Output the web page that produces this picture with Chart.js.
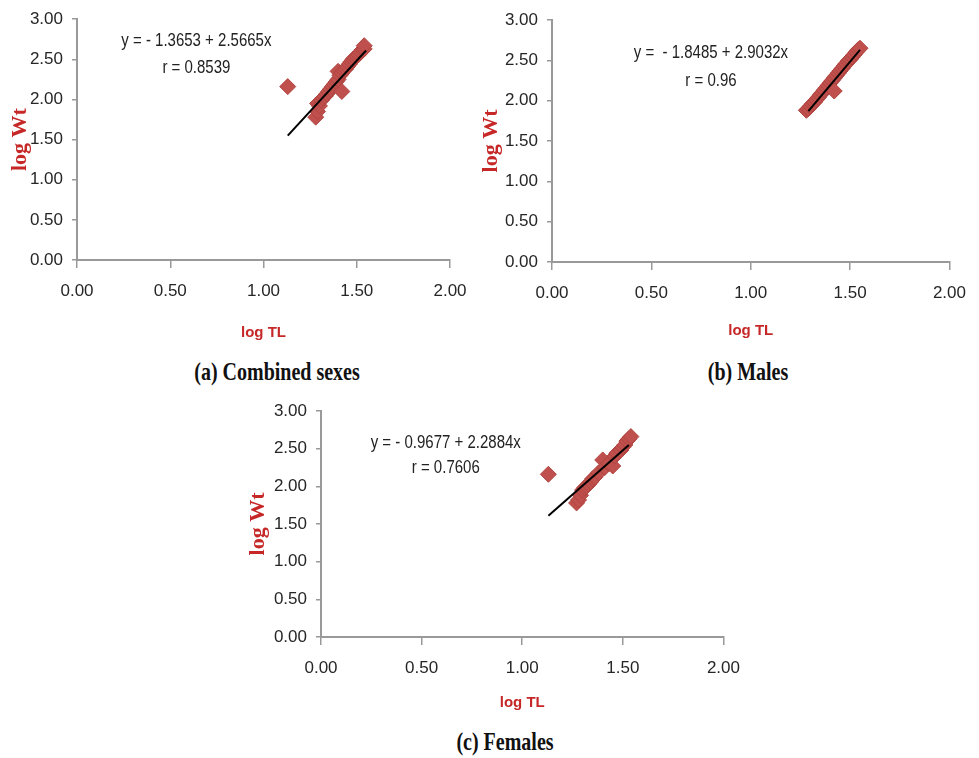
<!DOCTYPE html>
<html>
<head>
<meta charset="utf-8">
<script src="https://cdn.jsdelivr.net/npm/chart.js@4/dist/chart.umd.min.js"></script>
<style>
  html, body { margin: 0; padding: 0; background: #fff; }
  body { width: 979px; height: 758px; position: relative; overflow: hidden; }
  canvas { position: absolute; }
  .cap {
    position: absolute; font-family: "Liberation Serif", "Times New Roman", serif;
    font-weight: bold; font-size: 20px; color: #111; white-space: nowrap;
    transform: translate(-50%, -50%) scaleY(1.3);
  }
</style>
</head>
<body>
<canvas id="chartA" width="480" height="350" style="left:0;top:0"></canvas>
<canvas id="chartB" width="501" height="350" style="left:478px;top:0"></canvas>
<canvas id="chartC" width="513" height="327" style="left:240px;top:390px"></canvas>
<div class="cap" style="left:277px;top:372px">(a) Combined sexes</div>
<div class="cap" style="left:748px;top:372px">(b) Males</div>
<div class="cap" style="left:505px;top:742px">(c) Females</div>
<script>
/* ---------- data ---------- */
// (a) combined sexes
const combinedTL = [1.13, 1.28, 1.29, 1.29, 1.30, 1.31, 1.32, 1.33, 1.34, 1.35, 1.36, 1.37, 1.38, 1.39, 1.40, 1.40, 1.41, 1.42, 1.42, 1.43, 1.44, 1.45, 1.46, 1.47, 1.48, 1.49, 1.50, 1.51, 1.52, 1.53, 1.54, 1.54];
const combinedWt = [2.16, 1.78, 1.85, 1.95, 1.92, 1.99, 2.02, 2.04, 2.07, 2.10, 2.13, 2.16, 2.19, 2.22, 2.25, 2.35, 2.30, 2.10, 2.33, 2.36, 2.38, 2.41, 2.44, 2.47, 2.50, 2.52, 2.54, 2.56, 2.59, 2.62, 2.63, 2.67];
const combinedFitTL = [1.13, 1.55];
const combinedFitWt = [1.55, 2.61];
const combinedEq = ['y = - 1.3653 + 2.5665x', 'r = 0.8539'];

// (b) males
const malesTL = [1.28, 1.29, 1.30, 1.31, 1.32, 1.33, 1.34, 1.35, 1.36, 1.37, 1.38, 1.39, 1.40, 1.41, 1.42, 1.42, 1.43, 1.44, 1.45, 1.46, 1.47, 1.48, 1.49, 1.50, 1.51, 1.52, 1.53, 1.54, 1.55];
const malesWt = [1.88, 1.90, 1.93, 1.96, 1.98, 2.01, 2.04, 2.07, 2.10, 2.13, 2.16, 2.19, 2.22, 2.25, 2.28, 2.12, 2.31, 2.34, 2.37, 2.40, 2.43, 2.46, 2.49, 2.51, 2.54, 2.57, 2.60, 2.63, 2.65];
const malesFitTL = [1.29, 1.55];
const malesFitWt = [1.87, 2.63];
const malesEq = ['y =  - 1.8485 + 2.9032x', 'r = 0.96'];

// (c) females
const femalesTL = [1.13, 1.27, 1.28, 1.29, 1.30, 1.31, 1.32, 1.33, 1.34, 1.35, 1.36, 1.38, 1.40, 1.41, 1.43, 1.45, 1.46, 1.47, 1.49, 1.50, 1.51, 1.52, 1.53, 1.54];
const femalesWt = [2.16, 1.78, 1.82, 1.88, 1.95, 1.98, 2.00, 2.03, 2.06, 2.10, 2.12, 2.18, 2.35, 2.25, 2.30, 2.27, 2.40, 2.44, 2.48, 2.52, 2.55, 2.60, 2.63, 2.66];
const femalesFitTL = [1.13, 1.53];
const femalesFitWt = [1.61, 2.55];
const femalesEq = ['y = - 0.9677 + 2.2884x', 'r = 0.7606'];

const xTitle = 'log TL';
const yTitle = 'log Wt';

/* ---------- helpers ---------- */
const pts = (xs, ys) => xs.map((x, i) => ({ x, y: ys[i] }));

// equation text, stretched a little vertically like the scanned figure
const eqPlugin = {
    id: 'eq',
    afterDatasetsDraw(chart, args, opts) {
        const { ctx, scales: { x, y } } = chart;
        ctx.save();
        ctx.font = '15px "Liberation Sans", Arial, sans-serif';
        ctx.fillStyle = '#222';
        ctx.textAlign = 'center';
        ctx.textBaseline = 'middle';
        opts.lines.forEach((t, i) => {
            ctx.save();
            ctx.translate(x.getPixelForValue(opts.atX), y.getPixelForValue(opts.atY[i]));
            ctx.scale(1, 1.25);
            ctx.fillText(t, 0, 0);
            ctx.restore();
        });
        ctx.restore();
    }
};

function makePanel(id, tl, wt, fitTL, fitWt, eq, eqAtX, eqAtY, lay) {
    const ctx = document.getElementById(id).getContext('2d');
    return new Chart(ctx, {
        type: 'scatter',
        data: {
            datasets: [
                {
                    data: pts(fitTL, fitWt), showLine: true, pointRadius: 0,
                    borderColor: '#000', borderWidth: 2, order: 0
                },
                {
                    data: pts(tl, wt), pointStyle: 'rectRot', pointRadius: 8,
                    backgroundColor: '#c0504d', borderColor: '#b04440', borderWidth: 1, order: 1
                }
            ]
        },
        options: {
            responsive: false,
            animation: false,
            devicePixelRatio: 1,
            layout: { padding: lay.padding },
            plugins: {
                legend: { display: false },
                tooltip: { enabled: false },
                eq: { lines: eq, atX: eqAtX, atY: eqAtY }
            },
            scales: {
                x: {
                    type: 'linear', min: 0, max: 2,
                    afterFit: s => { s.height = lay.xHeight; },
                    ticks: {
                        stepSize: 0.5, padding: 13, color: '#262626',
                        font: { family: '"Liberation Sans", Arial, sans-serif', size: 17 },
                        callback: v => v.toFixed(2)
                    },
                    grid: { drawOnChartArea: false, drawTicks: true, tickLength: 8, color: '#999', lineWidth: 1.5 },
                    border: { color: '#999', width: 2 },
                    title: {
                        display: true, text: xTitle, color: '#c62828',
                        font: { family: '"Liberation Sans", Arial, sans-serif', size: 15, weight: 'bold' },
                        padding: { top: 0, bottom: lay.xTitlePad }
                    }
                },
                y: {
                    type: 'linear', min: 0, max: 3,
                    afterFit: s => { s.width = lay.yWidth; },
                    ticks: {
                        stepSize: 0.5, padding: 9, color: '#262626',
                        font: { family: '"Liberation Sans", Arial, sans-serif', size: 17 },
                        callback: v => v.toFixed(2)
                    },
                    grid: { drawOnChartArea: false, drawTicks: true, tickLength: 5, color: '#999', lineWidth: 1.5 },
                    border: { color: '#999', width: 2 },
                    title: {
                        display: true, text: yTitle, color: '#c62828',
                        font: { family: '"Liberation Serif", "Times New Roman", serif', size: 22, weight: 'bold' },
                        padding: { top: lay.yTitlePad, bottom: 0 }
                    }
                }
            }
        },
        plugins: [eqPlugin]
    });
}

/* ---------- panels ---------- */
makePanel('chartA', combinedTL, combinedWt, combinedFitTL, combinedFitWt, combinedEq, 0.64, [2.73, 2.40],
    { padding: { left: 0, top: 15, right: 30, bottom: 0 }, yWidth: 77, xHeight: 90, xTitlePad: 8, yTitlePad: 7 });

makePanel('chartB', malesTL, malesWt, malesFitTL, malesFitWt, malesEq, 0.80, [2.59, 2.25],
    { padding: { left: 0, top: 20, right: 22, bottom: 0 }, yWidth: 74, xHeight: 88, xTitlePad: 10, yTitlePad: 0 });

makePanel('chartC', femalesTL, femalesWt, femalesFitTL, femalesFitWt, femalesEq, 0.62, [2.58, 2.24],
    { padding: { left: 0, top: 21, right: 25, bottom: 0 }, yWidth: 81, xHeight: 80, xTitlePad: 5, yTitlePad: 5 });
</script>
</body>
</html>
